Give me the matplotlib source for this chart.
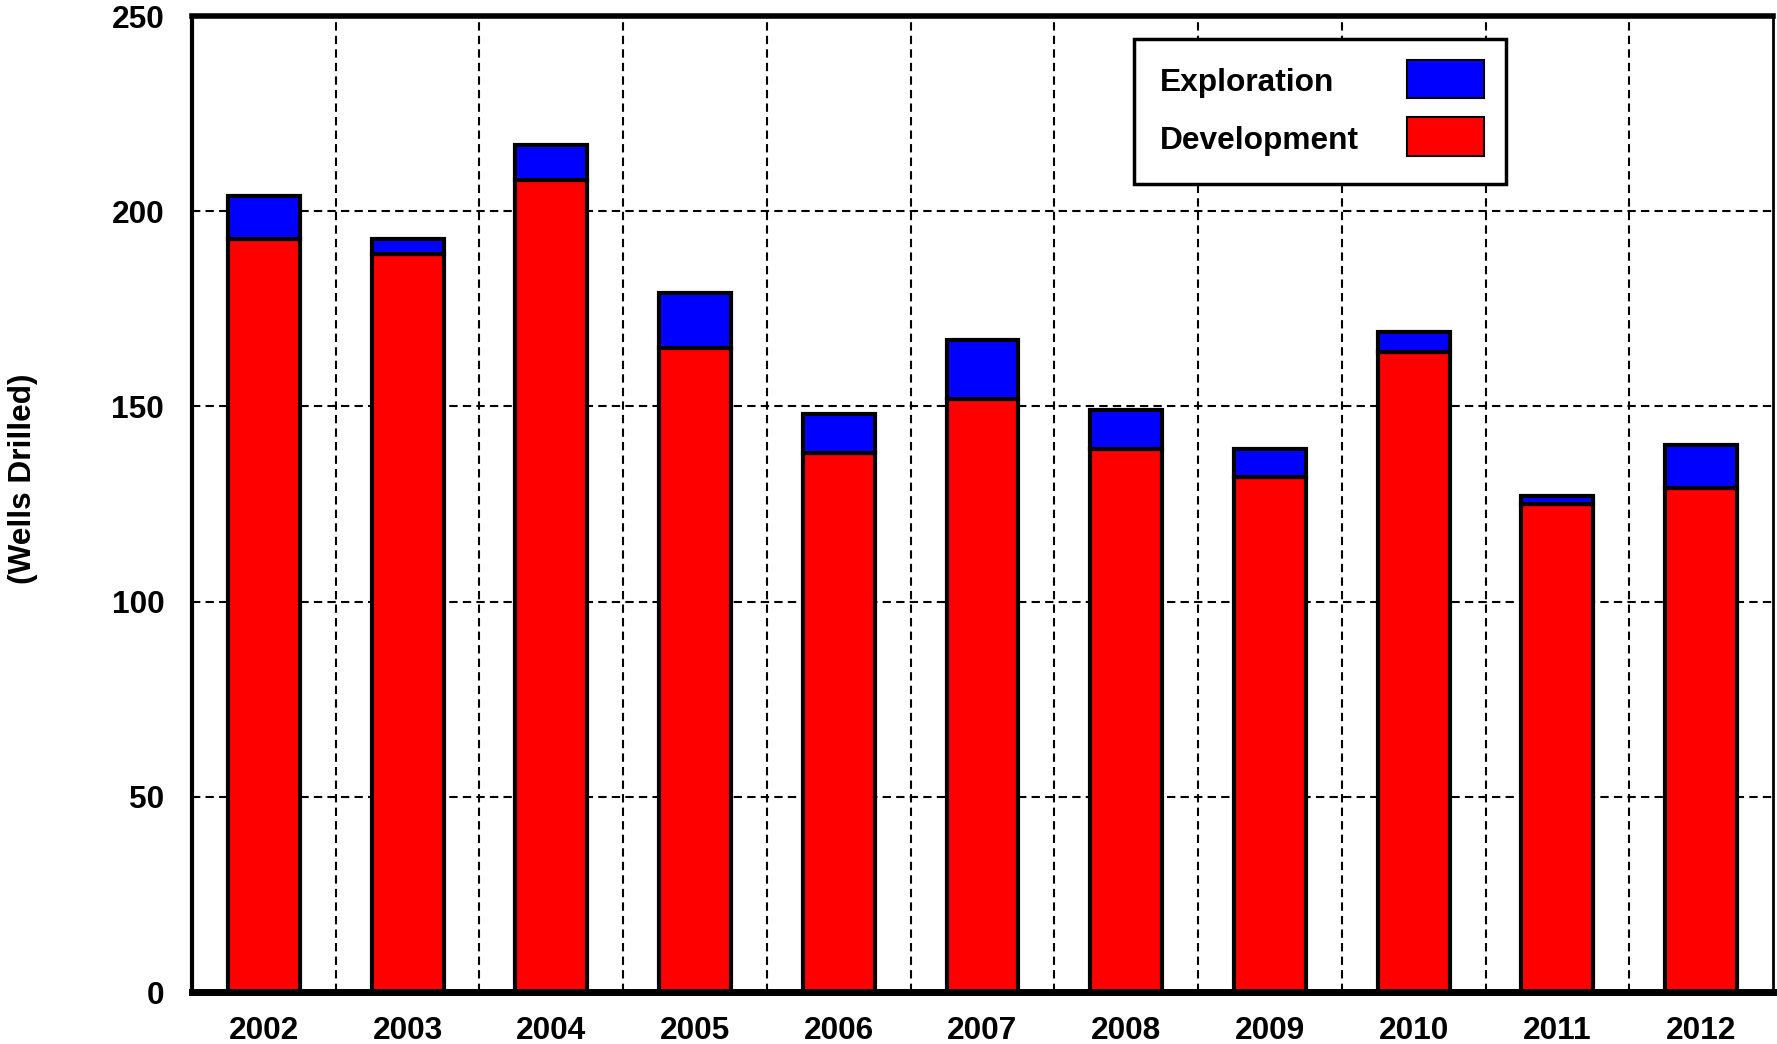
import numpy as np
import matplotlib
matplotlib.use('Agg')
import matplotlib.pyplot as plt
from matplotlib.patches import Rectangle

# Wells drilled per year
years = ['2002', '2003', '2004', '2005', '2006', '2007', '2008', '2009', '2010', '2011', '2012']
development = [193, 189, 208, 165, 138, 152, 139, 132, 164, 125, 129]
exploration = [11, 4, 9, 14, 10, 15, 10, 7, 5, 2, 11]
y_ticks = [0, 50, 100, 150, 200, 250]

plt.rcParams['font.family'] = ['Liberation Sans', 'DejaVu Sans']
plt.rcParams['font.weight'] = 'bold'
FS = 22.8
RED, BLUE = '#ff0000', '#0000ff'

W, H = 1777, 1044
fig = plt.figure(figsize=(W / 100, H / 100), dpi=100)
ax = fig.add_axes([192 / W, 52 / H, (1773 - 192) / W, (992 - 16) / H])

x = np.arange(len(years))
ax.bar(x, development, width=0.5, color=RED, edgecolor='black', linewidth=3, zorder=3)
ax.bar(x, exploration, width=0.5, bottom=development, color=BLUE, edgecolor='black', linewidth=3, zorder=3)

ax.set_xlim(-0.5, len(years) - 0.5)
ax.set_ylim(0, 250)
ax.set_xticks(x)
ax.set_xticklabels(years)
ax.set_yticks(y_ticks)
ax.set_xticks(np.arange(0.5, len(years) - 1, 1), minor=True)
ax.tick_params(axis='both', which='both', length=0, labelsize=FS)
ax.tick_params(axis='x', pad=17.5)
ax.tick_params(axis='y', pad=20)
for lbl in ax.get_xticklabels() + ax.get_yticklabels():
    lbl.set_fontweight('bold')

# dashed grid: horizontal on the ticks, vertical between the bars
ax.set_axisbelow(True)
ax.grid(axis='y', which='major', color='black', linestyle=(0, (4, 2.5)), linewidth=1.5)
ax.grid(axis='x', which='minor', color='black', linestyle=(0, (4, 2.5)), linewidth=1.5)
ax.grid(axis='x', which='major', visible=False)

ax.spines['top'].set_linewidth(4)
ax.spines['bottom'].set_linewidth(5)
ax.spines['left'].set_linewidth(3)
ax.spines['right'].set_linewidth(2)
for s in ax.spines.values():
    s.set_color('black')
    s.set_zorder(5)

fig.text(23 / W, 1 - 479 / H, '(Wells Drilled)', rotation=90, ha='center', va='center',
         fontsize=FS, fontweight='bold')


# legend box: labels left-aligned, swatches on the right (pixel layout of the original)
def fig_rect(x0, y0, x1, y1, **kw):
    return Rectangle((x0 / W, 1 - y1 / H), (x1 - x0) / W, (y1 - y0) / H,
                     transform=fig.transFigure, **kw)


fig.patches.append(fig_rect(1134, 39, 1506, 184, facecolor='white', edgecolor='black',
                            linewidth=2.5, zorder=6))
legend_rows = [('Exploration', BLUE, 60, 98), ('Development', RED, 117, 156)]
for label, color, top, bot in legend_rows:
    fig.patches.append(fig_rect(1407, top, 1484, bot, facecolor=color, edgecolor='black',
                                linewidth=1.5, zorder=7))
    fig.text(1160 / W, 1 - ((top + bot) / 2 + 4) / H, label, ha='left', va='center',
             fontsize=FS, fontweight='bold', zorder=7)

fig.savefig('out.png', dpi=100)
